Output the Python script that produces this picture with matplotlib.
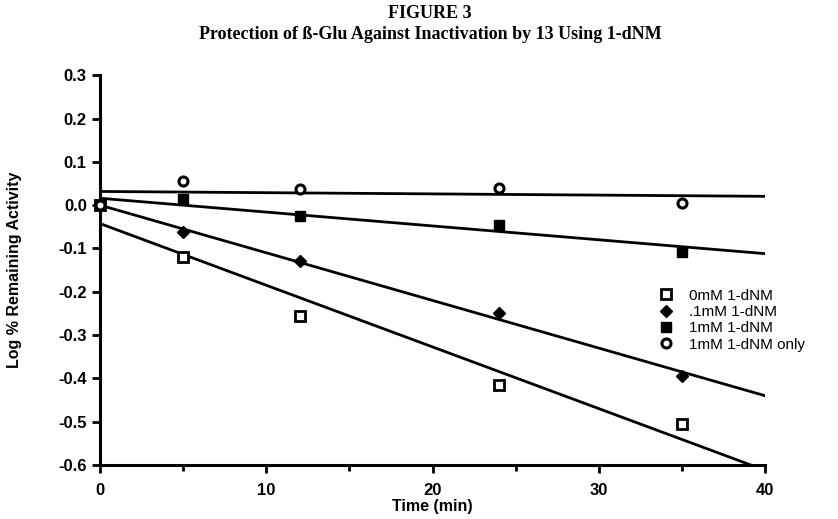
import numpy as np
import matplotlib
matplotlib.use("Agg")
import matplotlib.pyplot as plt
from matplotlib.ticker import MultipleLocator, FuncFormatter

# data
time = [0, 5, 12, 24, 35]
y_0mM = [0.0, -0.120, -0.255, -0.415, -0.505]
y_01mM = [0.0, -0.063, -0.128, -0.250, -0.395]
y_1mM = [0.0, 0.015, -0.025, -0.045, -0.108]
y_1mM_only = [0.0, 0.055, 0.037, 0.040, 0.005]
labels = ["0mM 1-dNM", ".1mM 1-dNM", "1mM 1-dNM", "1mM 1-dNM only"]

fig = plt.figure(figsize=(8.38, 5.19), dpi=100)
ax = fig.add_axes([0.1193, 0.104, 0.794, 0.751])

sans = ["Liberation Sans", "DejaVu Sans"]
serif = ["Liberation Serif", "DejaVu Serif"]

styles = [
    dict(marker="s", ms=7, mfc="white", mec="black", mew=2.0),
    dict(marker="D", ms=6, mfc="black", mec="black", mew=1.0),
    dict(marker="s", ms=7.5, mfc="black", mec="black", mew=1.0),
    dict(marker="o", ms=6.5, mfc="white", mec="black", mew=2.2),
]
series = [y_0mM, y_01mM, y_1mM, y_1mM_only]

xx = np.array([0, 40])
for ys, st, lab in zip(series, styles, labels):
    k, b = np.polyfit(time, ys, 1)
    ax.plot(xx, k * xx + b, color="black", lw=2.0, zorder=2)
    ax.plot(time, ys, ls="none", label=lab, zorder=3, clip_on=False, **st)

ax.set_xlim(0, 40)
ax.set_ylim(-0.6, 0.3)
ax.xaxis.set_major_locator(MultipleLocator(10))
ax.xaxis.set_minor_locator(MultipleLocator(5))
ax.yaxis.set_major_locator(MultipleLocator(0.1))
ax.yaxis.set_major_formatter(FuncFormatter(lambda v, p: f"{v:.1f}"))

for s in ["top", "right"]:
    ax.spines[s].set_visible(False)
for s in ["left", "bottom"]:
    ax.spines[s].set_linewidth(2.2)
ax.tick_params(which="major", direction="out", length=6, width=2, labelsize=12)
ax.tick_params(axis="x", which="major", pad=7)
ax.tick_params(which="minor", direction="out", length=4, width=2)
for t in ax.get_xticklabels() + ax.get_yticklabels():
    t.set_family(sans)
    t.set_fontweight("bold")

ax.set_xlabel("Time (min)", family=sans, fontweight="bold", fontsize=11.5, labelpad=1)
ax.set_ylabel("Log % Remaining Activity", family=sans, fontweight="bold", fontsize=11.5, labelpad=26)

leg = ax.legend(loc="upper left", bbox_to_anchor=(0.83, 0.468), frameon=False,
                prop={"family": sans, "size": 11}, handlelength=1.0,
                handletextpad=1.0, labelspacing=0.15, borderaxespad=0)

fig.text(0.513, 0.99, "FIGURE 3", ha="center", va="top", family=serif,
         fontweight="bold", fontsize=13)
fig.text(0.513, 0.95, "Protection of ß-Glu Against Inactivation by 13 Using 1-dNM",
         ha="center", va="top", family=serif, fontweight="bold", fontsize=13)

fig.savefig("out.png", dpi=100)
